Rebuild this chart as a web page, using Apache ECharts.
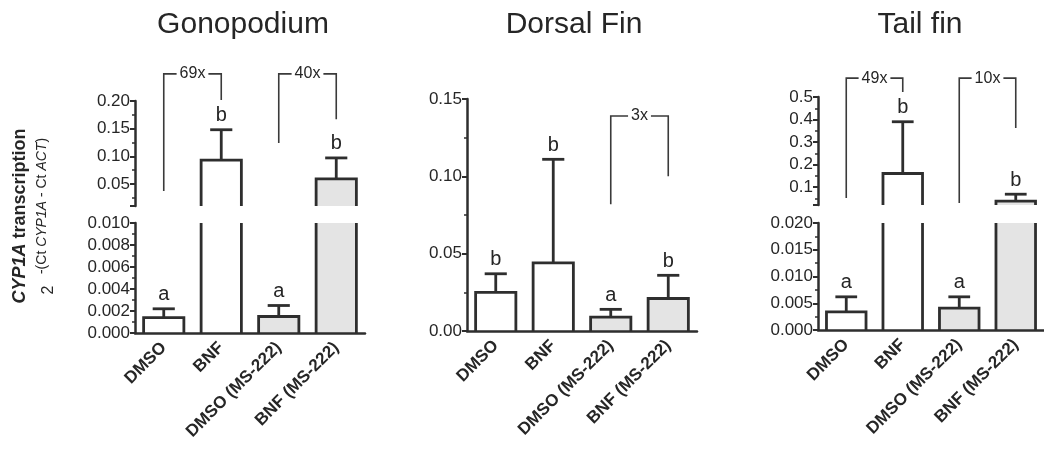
<!DOCTYPE html>
<html>
<head>
<meta charset="utf-8">
<script src="https://cdn.jsdelivr.net/npm/echarts@6/dist/echarts.min.js"></script>
<style>html,body{margin:0;padding:0;background:#fff}#c{width:1044px;height:456px}</style>
</head>
<body>
<div id="c"></div>
<script>
// ---- data ----
const categories = ['DMSO', 'BNF', 'DMSO (MS-222)', 'BNF (MS-222)'];
const barFills = ['#ffffff', '#ffffff', '#e4e4e4', '#e4e4e4'];

const panelTitles = ['Gonopodium', 'Dorsal Fin', 'Tail fin'];

const gonoMean = [0.0014, 0.093, 0.0015, 0.059];
const gonoErrTop = [0.0022, 0.148, 0.0025, 0.097];
const gonoLetters = ['a', 'b', 'a', 'b'];
const gonoBrackets = [
  { from: 0, to: 1, top: 0.249, leftEnd: 0.037, rightEnd: 0.202, label: '69x' },
  { from: 2, to: 3, top: 0.249, leftEnd: 0.124, rightEnd: 0.167, label: '40x' }
];

const dorsalMean = [0.025, 0.044, 0.009, 0.021];
const dorsalErrTop = [0.037, 0.111, 0.014, 0.036];
const dorsalLetters = ['b', 'b', 'a', 'b'];
const dorsalBrackets = [
  { from: 2, to: 3, top: 0.139, leftEnd: 0.082, rightEnd: 0.100, label: '3x' }
];

const tailMean = [0.0034, 0.16, 0.0041, 0.037];
const tailErrTop = [0.0062, 0.39, 0.0062, 0.068];
const tailLetters = ['a', 'b', 'a', 'b'];
const tailBrackets = [
  { from: 0, to: 1, top: 0.584, leftEnd: 0.051, rightEnd: 0.522, label: '49x' },
  { from: 2, to: 3, top: 0.584, leftEnd: 0.029, rightEnd: 0.362, label: '10x' }
];

// ---- styling helpers ----
const FONT = '"Liberation Sans", Arial, Helvetica, sans-serif';
const INK = '#262626';
const AXIS = '#2e2e2e';

function makeBars(mean, errTop, letters) {
  return function (params, api) {
    const i = params.dataIndex;
    const cs = params.coordSys;
    const top = cs.y, bottom = cs.y + cs.height;
    const p = api.coord([i, mean[i]]);
    const w = api.size([1, 0])[0] * 0.7;
    const x0 = p[0] - w / 2, x1 = p[0] + w / 2;
    const base = Math.min(api.coord([i, 0])[1], bottom);
    const children = [];
    if (p[1] >= bottom - 0.5) return { type: 'group', children: children };
    const clipped = p[1] < top;
    const yt = clipped ? top : p[1];
    const ls = { stroke: AXIS, lineWidth: 2.8, fill: 'none' };
    children.push({ type: 'rect', shape: { x: x0, y: yt, width: w, height: base - yt }, style: { fill: barFills[i] } });
    if (clipped) {
      children.push({ type: 'line', shape: { x1: x0, y1: base, x2: x0, y2: yt }, style: ls });
      children.push({ type: 'line', shape: { x1: x1, y1: base, x2: x1, y2: yt }, style: ls });
    } else {
      children.push({ type: 'polyline', shape: { points: [[x0, base], [x0, yt], [x1, yt], [x1, base]] }, style: ls });
      const e = api.coord([i, errTop[i]])[1];
      const ey = Math.max(e, top);
      children.push({ type: 'line', shape: { x1: p[0], y1: yt, x2: p[0], y2: ey }, style: ls });
      if (e >= top) {
        const cw = w * 0.55;
        children.push({ type: 'line', shape: { x1: p[0] - cw / 2, y1: e, x2: p[0] + cw / 2, y2: e }, style: ls });
        children.push({ type: 'text', x: p[0], y: e - 4,
          style: { text: letters[i], fill: INK, font: '20px ' + FONT, align: 'center', verticalAlign: 'bottom' } });
      }
    }
    return { type: 'group', children: children };
  };
}

function makeBrackets(br) {
  return function (params, api) {
    const b = br[params.dataIndex];
    const pL = api.coord([b.from, b.top]);
    const pR = api.coord([b.to, b.top]);
    const yLB = api.coord([b.from, b.leftEnd])[1];
    const yRB = api.coord([b.to, b.rightEnd])[1];
    const mid = (pL[0] + pR[0]) / 2;
    return {
      type: 'group',
      children: [
        { type: 'polyline', shape: { points: [[pL[0], yLB], [pL[0], pL[1]], [pR[0], pL[1]], [pR[0], yRB]] },
          style: { stroke: '#3a3a3a', lineWidth: 1.6, fill: 'none' } },
        { type: 'text', x: mid, y: pL[1],
          style: { text: b.label, fill: INK, font: '16px ' + FONT, align: 'center', verticalAlign: 'middle',
                   backgroundColor: '#fff', padding: [0, 3] } }
      ]
    };
  };
}

function xAxisCfg(grid, visible) {
  return {
    type: 'category', gridIndex: grid, data: categories, show: visible, z: 10,
    axisLine: { lineStyle: { color: AXIS, width: 2.5 } },
    axisTick: { alignWithLabel: true, length: 5, lineStyle: { color: AXIS, width: 2 } },
    axisLabel: { interval: 0, rotate: 45, margin: 12, color: INK, fontWeight: 'bold', fontSize: 17, fontFamily: FONT },
    splitLine: { show: false }
  };
}

function yAxisCfg(grid, min, max, step, digits, hideMin) {
  const cfg = {
    type: 'value', gridIndex: grid, min: min, max: max, z: 10,
    axisLine: { show: true, lineStyle: { color: AXIS, width: 2.5 } },
    axisTick: { show: true, length: 5, lineStyle: { color: AXIS, width: 2 } },
    minorTick: { show: true, splitNumber: 2, length: 3, lineStyle: { color: AXIS, width: 1.5 } },
    axisLabel: { color: INK, fontSize: 17, fontFamily: FONT, margin: 5,
      showMinLabel: !hideMin,
      formatter: function (v) { return v.toFixed(digits); } },
    splitLine: { show: false }
  };
  if (min % step === 0) { cfg.interval = step; }
  else { cfg.minInterval = step; cfg.maxInterval = step; cfg.splitNumber = Math.round((max - min) / step); }
  return cfg;
}

function barSeries(xi, yi, mean, err, letters) {
  return { type: 'custom', xAxisIndex: xi, yAxisIndex: yi, renderItem: makeBars(mean, err, letters),
    data: mean.map(function (v, i) { return [i, v]; }), encode: { x: 0, y: 1 }, clip: false, z: 5 };
}
function bracketSeries(xi, yi, br) {
  return { type: 'custom', xAxisIndex: xi, yAxisIndex: yi, renderItem: makeBrackets(br),
    data: br.map(function (b) { return [b.from, b.top]; }), encode: { x: 0, y: 1 }, clip: false, z: 6 };
}

const option = {
  backgroundColor: '#fff',
  animation: false,
  grid: [
    { left: 135, top: 101, width: 230, height: 105 },
    { left: 135, top: 223, width: 230, height: 110 },
    { left: 467, top: 99, width: 230, height: 232 },
    { left: 818, top: 97, width: 232, height: 108 },
    { left: 818, top: 223, width: 232, height: 107 }
  ],
  xAxis: [xAxisCfg(0, false), xAxisCfg(1, true), xAxisCfg(2, true), xAxisCfg(3, false), xAxisCfg(4, true)],
  yAxis: [
    yAxisCfg(0, 0.01, 0.20, 0.05, 2, true),
    yAxisCfg(1, 0, 0.010, 0.002, 3, false),
    yAxisCfg(2, 0, 0.15, 0.05, 2, false),
    yAxisCfg(3, 0.02, 0.5, 0.1, 1, true),
    yAxisCfg(4, 0, 0.020, 0.005, 3, false)
  ],
  graphic: [
    { type: 'text', x: 243, y: 25, style: { text: panelTitles[0], font: '30px ' + FONT, fill: INK, align: 'center', verticalAlign: 'middle' } },
    { type: 'text', x: 574, y: 25, style: { text: panelTitles[1], font: '30px ' + FONT, fill: INK, align: 'center', verticalAlign: 'middle' } },
    { type: 'text', x: 920, y: 25, style: { text: panelTitles[2], font: '30px ' + FONT, fill: INK, align: 'center', verticalAlign: 'middle' } },
    { type: 'text', x: 20, y: 216, rotation: Math.PI / 2,
      style: { text: '{i|CYP1A} transcription', font: 'bold 18px ' + FONT, fill: INK, align: 'center', verticalAlign: 'middle',
               rich: { i: { fontStyle: 'italic', fontWeight: 'bold', fontSize: 18, fontFamily: FONT, fill: INK } } } },
    { type: 'text', x: 49, y: 290, rotation: Math.PI / 2,
      style: { text: '2', font: '16px ' + FONT, fill: INK, align: 'center', verticalAlign: 'middle' } },
    { type: 'text', x: 42, y: 206, rotation: Math.PI / 2,
      style: { text: '-(Ct {i|CYP1A} - Ct {i|ACT})', font: '14px ' + FONT, fill: INK, align: 'center', verticalAlign: 'middle',
               rich: { i: { fontStyle: 'italic', fontSize: 14, fontFamily: FONT, fill: INK } } } }
  ],
  series: [
    barSeries(0, 0, gonoMean, gonoErrTop, gonoLetters),
    barSeries(1, 1, gonoMean, gonoErrTop, gonoLetters),
    bracketSeries(0, 0, gonoBrackets),
    barSeries(2, 2, dorsalMean, dorsalErrTop, dorsalLetters),
    bracketSeries(2, 2, dorsalBrackets),
    barSeries(3, 3, tailMean, tailErrTop, tailLetters),
    barSeries(4, 4, tailMean, tailErrTop, tailLetters),
    bracketSeries(3, 3, tailBrackets)
  ]
};

const chart = echarts.init(document.getElementById('c'), null, { renderer: 'canvas' });
chart.setOption(option);
</script>
</body>
</html>
